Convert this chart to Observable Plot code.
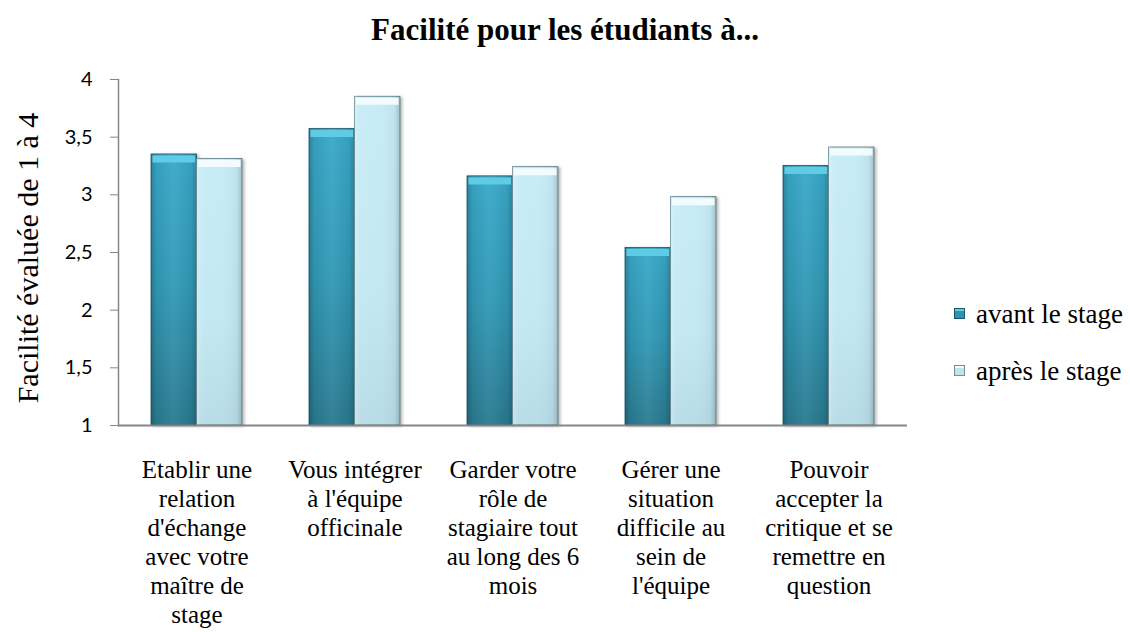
<!DOCTYPE html>
<html>
<head>
<meta charset="utf-8">
<script src="https://cdn.jsdelivr.net/npm/d3@7"></script>
<script src="https://cdn.jsdelivr.net/npm/@observablehq/plot@0.6"></script>
<style>
  html, body { margin: 0; padding: 0; background: #ffffff; }
  #wrap { position: relative; width: 1130px; height: 632px; overflow: hidden; }
  #title { position: absolute; left: 0; top: 14px; width: 1130px; text-align: center;
           font: bold 31px/31px "Liberation Serif", "Times New Roman", serif; color: #000; }
  #ylabel { position: absolute; left: -142px; top: 243px; width: 340px; height: 30px; text-align: center;
            font: 30px/30px "Liberation Serif", "Times New Roman", serif; color: #000; white-space: nowrap;
            transform: rotate(-90deg); transform-origin: 50% 50%; }
  .lg { position: absolute; left: 976px; font: 27px/27px "Liberation Serif", "Times New Roman", serif; color: #000; white-space: nowrap; }
  .mk { position: absolute; left: 954px; width: 11px; height: 11px; box-sizing: border-box; }
</style>
</head>
<body>
<div id="wrap">
  <div id="chart"></div>
  <div id="title"></div>
  <div id="ylabel"></div>
  <div id="legend"></div>
</div>
<script>
// ---- data ----
const categories = [
  "Etablir une\nrelation\nd'échange\navec votre\nmaître de\nstage",
  "Vous intégrer\nà l'équipe\nofficinale",
  "Garder votre\nrôle de\nstagiaire tout\nau long des 6\nmois",
  "Gérer une\nsituation\ndifficile au\nsein de\nl'équipe",
  "Pouvoir\naccepter la\ncritique et se\nremettre en\nquestion"
];
const series = ["avant le stage", "après le stage"];
const avant = [3.35, 3.57, 3.16, 2.54, 3.25];
const apres = [3.31, 3.85, 3.24, 2.98, 3.41];
const yTicks = [1, 1.5, 2, 2.5, 3, 3.5, 4];
const titleText = "Facilité pour les étudiants à...";
const yLabel = "Facilité évaluée de 1 à 4";

// ---- styles ----
const serif = "Liberation Serif, Times New Roman, serif";
const half = 45.5; // half of the band width in px
const avantData = categories.map((c, i) => ({cat: c, value: avant[i], serie: series[0]}));
const apresData = categories.map((c, i) => ({cat: c, value: apres[i], serie: series[1]}));

const chart = Plot.plot({
  width: 1130,
  height: 632,
  marginTop: 79,
  marginBottom: 207,
  marginLeft: 118,
  marginRight: 223,
  style: {background: "transparent", fontFamily: serif, color: "#000"},
  x: {domain: categories, paddingInner: 0.424, paddingOuter: 0.205, axis: null},
  y: {domain: [yTicks[0], yTicks[yTicks.length - 1]], axis: null},
  marks: [
    Plot.barY(avantData, {x: "cat", y1: yTicks[0], y2: "value", fill: "url(#gAvant)", stroke: "#1b5666", strokeWidth: 0.8, insetRight: half}),
    Plot.barY(apresData, {x: "cat", y1: yTicks[0], y2: "value", fill: "url(#gApres)", stroke: "#5b7e88", strokeWidth: 0.8, insetLeft: half}),
    Plot.barY(avantData, {x: "cat", y1: yTicks[0], y2: "value", fill: "url(#gEdge)", insetRight: half}),
    Plot.barY(apresData, {x: "cat", y1: yTicks[0], y2: "value", fill: "url(#gEdge2)", insetLeft: half}),
    Plot.tickY(avantData, {x: "cat", y: "value", stroke: "#5fcbe4", strokeWidth: 7, dy: 4.5, insetLeft: 1.5, insetRight: half + 1.5}),
    Plot.tickY(apresData, {x: "cat", y: "value", stroke: "#f2fbfd", strokeWidth: 7, dy: 4.5, insetLeft: half + 1.5, insetRight: 1.5}),
    Plot.frame({anchor: "left", stroke: "#868686", strokeWidth: 1.5}),
    Plot.ruleY([yTicks[0]], {stroke: "#868686", strokeWidth: 2}),
    Plot.axisY(yTicks, {
      tickSize: 8, tickPadding: 18, stroke: "#868686", fill: "#000",
      fontSize: 20, fontFamily: "Lato, Open Sans, sans-serif",
      tickFormat: d => String(d).replace(".", ","), label: null
    }),
    Plot.axisX({
      tickSize: 0, tickPadding: 32, fontSize: 25, lineHeight: 1.16,
      fontFamily: serif, fill: "#000", label: null
    })
  ]
});

// gradients for the bar finish
const sel = d3.select(chart);
const defs = sel.insert("defs", ":first-child");
function vgrad(id, stops) {
  const g = defs.append("linearGradient").attr("id", id).attr("x1", 0).attr("y1", 0).attr("x2", 0).attr("y2", 1);
  stops.forEach(([o, c, a]) => g.append("stop").attr("offset", o).attr("stop-color", c).attr("stop-opacity", a ?? 1));
}
function hgrad(id, stops) {
  const g = defs.append("linearGradient").attr("id", id).attr("x1", 0).attr("y1", 0).attr("x2", 1).attr("y2", 0);
  stops.forEach(([o, c, a]) => g.append("stop").attr("offset", o).attr("stop-color", c).attr("stop-opacity", a ?? 1));
}
vgrad("gAvant", [[0, "#38a8c8"], [0.5, "#3199b6"], [1, "#2a7a90"]]);
vgrad("gApres", [[0, "#c7ecf6"], [0.6, "#c2e8f2"], [1, "#b7dce6"]]);
hgrad("gEdge", [[0, "#000", 0.22], [0.12, "#000", 0.05], [0.5, "#fff", 0.05], [0.88, "#000", 0.05], [1, "#000", 0.2]]);
hgrad("gEdge2", [[0, "#fff", 0.25], [0.12, "#fff", 0.05], [0.5, "#fff", 0], [0.88, "#000", 0.04], [1, "#000", 0.18]]);

sel.selectAll('g[aria-label="bar"]').filter((d, i) => i < 2)
  .style("filter", "drop-shadow(2px 1px 1.5px rgba(0,0,0,0.28))");

document.getElementById("chart").appendChild(chart);
document.getElementById("title").textContent = titleText;
document.getElementById("ylabel").textContent = yLabel;

// legend
const legend = document.getElementById("legend");
const mkStyles = [
  "background: linear-gradient(#5fcbe4 0 25%, #2f93ae 25% 100%); border: 1px solid #1b5666;",
  "background: linear-gradient(#f2fbfd 0 25%, #bfe3ec 25% 100%); border: 1px solid #6f9099;"
];
series.forEach((s, i) => {
  const mk = document.createElement("div");
  mk.className = "mk";
  mk.style.cssText = mkStyles[i] + "top:" + (308 + i * 57) + "px;";
  legend.appendChild(mk);
  const t = document.createElement("div");
  t.className = "lg";
  t.style.top = (301 + i * 57) + "px";
  t.textContent = s;
  legend.appendChild(t);
});
</script>
</body>
</html>
